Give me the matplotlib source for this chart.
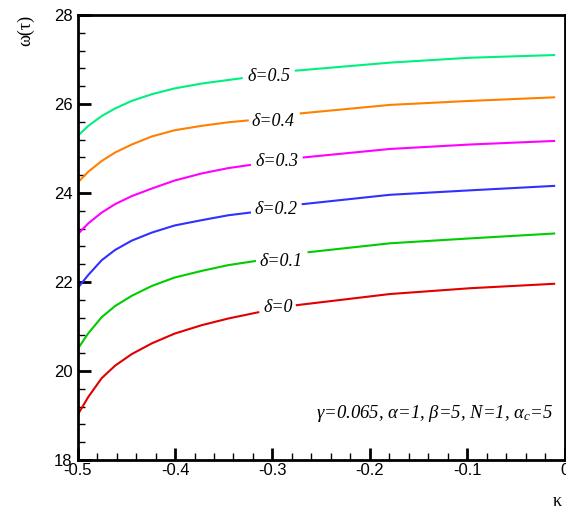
import matplotlib
matplotlib.use("Agg")
import matplotlib.pyplot as plt
from matplotlib.ticker import MultipleLocator, FuncFormatter

# values, each curve split where its label sits
deltas = ["0", "0.1", "0.2", "0.3", "0.4", "0.5"]
colors = ["#e00000", "#00cc00", "#3030ff", "#ff00ff", "#ff8000", "#00f080"]

kappa_left = [-0.5, -0.4889, -0.4752, -0.4615, -0.4444, -0.4239, -0.4005, -0.3726, -0.3453]
k_end_left = [-0.3146, -0.318, -0.3231, -0.3231, -0.3254, -0.3316]

w0_left = [19.01, 19.42, 19.84, 20.12, 20.38, 20.62, 20.84, 21.03, 21.18, 21.32]
w1_left = [20.49, 20.85, 21.21, 21.46, 21.69, 21.91, 22.10, 22.25, 22.38, 22.47]
w2_left = [21.86, 22.16, 22.49, 22.72, 22.93, 23.11, 23.27, 23.39, 23.50, 23.56]
w3_left = [23.07, 23.32, 23.56, 23.75, 23.93, 24.10, 24.28, 24.44, 24.56, 24.63]
w4_left = [24.23, 24.48, 24.72, 24.91, 25.09, 25.27, 25.41, 25.51, 25.59, 25.63]
w5_left = [25.28, 25.51, 25.73, 25.90, 26.07, 26.22, 26.35, 26.46, 26.54, 26.58]

k_start_right = [-0.275, -0.263, -0.269, -0.268, -0.271, -0.276]
kappa_right = [-0.1795, -0.0974, -0.011]

w0_right = [21.48, 21.73, 21.86, 21.96]
w1_right = [22.67, 22.87, 22.98, 23.09]
w2_right = [23.75, 23.96, 24.06, 24.16]
w3_right = [24.80, 24.99, 25.09, 25.17]
w4_right = [25.79, 25.98, 26.07, 26.15]
w5_right = [26.75, 26.93, 27.04, 27.10]

label_x = [-0.294, -0.291, -0.296, -0.295, -0.299, -0.3036]
label_y = [21.42, 22.45, 23.62, 24.70, 25.60, 26.61]

lefts = [w0_left, w1_left, w2_left, w3_left, w4_left, w5_left]
rights = [w0_right, w1_right, w2_right, w3_right, w4_right, w5_right]

plt.rcParams['font.family'] = ['Liberation Sans', 'DejaVu Sans']
plt.rcParams['mathtext.fontset'] = 'custom'
plt.rcParams['mathtext.rm'] = 'Liberation Serif'
plt.rcParams['mathtext.it'] = 'Liberation Serif:italic'

fig = plt.figure(figsize=(5.66, 5.11), dpi=100)
ax = fig.add_axes([0.137, 0.0998, 0.861, 0.8708])

for i in range(len(deltas)):
    ax.plot(kappa_left + [k_end_left[i]], lefts[i], color=colors[i], lw=1.5)
    ax.plot([k_start_right[i]] + kappa_right, rights[i], color=colors[i], lw=1.5)
    ax.text(label_x[i], label_y[i], "\u03b4=" + deltas[i], ha="center", va="center",
            fontsize=13, family="Liberation Serif", style="italic")

ax.text(-0.012, 19.05, "\u03b3=0.065, \u03b1=1, \u03b2=5, N=1, \u03b1$_c$=5",
        ha="right", va="center", fontsize=13.5, family="Liberation Serif", style="italic")

ax.set_xlim(-0.5, 0)
ax.set_ylim(18, 28)
ax.xaxis.set_major_locator(MultipleLocator(0.1))
ax.xaxis.set_minor_locator(MultipleLocator(0.02))
ax.yaxis.set_major_locator(MultipleLocator(2))
ax.yaxis.set_minor_locator(MultipleLocator(0.4))
ax.xaxis.set_major_formatter(FuncFormatter(lambda v, p: "0" if abs(v) < 1e-9 else "%.1f" % v))
ax.tick_params(which="both", direction="in", top=False, right=False, labelsize=12)
ax.tick_params(which="major", length=9, width=2)
ax.tick_params(which="minor", length=5, width=1)
ax.tick_params(axis="x", pad=2)
for s in ax.spines.values():
    s.set_linewidth(2)

fig.text(0.985, 0.018, "\u03ba", fontsize=13, family="Liberation Serif", ha="center", va="center")
fig.text(0.045, 0.94, "\u03c9(\u03c4)", fontsize=13, family="Liberation Serif", rotation=90,
         ha="center", va="center")

fig.savefig("out.png", dpi=100)
